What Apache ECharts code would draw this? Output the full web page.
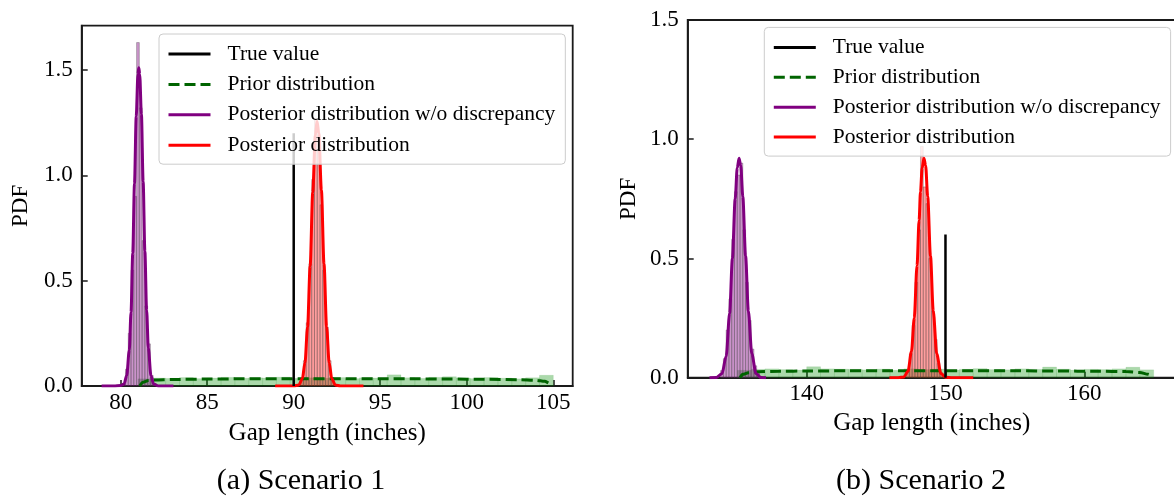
<!DOCTYPE html>
<html>
<head>
<meta charset="utf-8">
<script src="https://cdn.jsdelivr.net/npm/echarts@6/dist/echarts.min.js"></script>
<style>
  html, body { margin: 0; padding: 0; background: #ffffff; }
  #chart { width: 1174px; height: 499px; }
</style>
</head>
<body>
<div id="chart"></div>
<script>
// ---------- Scenario 1 ----------
const s1TrueX = 90;
const s1TrueTop = 1.2;

const s1PriorBinEdges = [81.0, 81.8, 82.6, 83.4, 84.2, 85.0, 85.8, 86.6, 87.4, 88.2, 89.0, 89.8, 90.6, 91.4, 92.2, 93.0,
  93.8, 94.6, 95.4, 96.2, 97.0, 97.8, 98.6, 99.4, 100.2, 101.0, 101.8, 102.6, 103.4, 104.2, 105.0];
const s1PriorBinHeights = [0.034, 0.038, 0.036, 0.040, 0.035, 0.038, 0.041, 0.037, 0.039, 0.038, 0.042, 0.036, 0.039, 0.037, 0.040,
  0.035, 0.039, 0.038, 0.053, 0.039, 0.036, 0.041, 0.044, 0.038, 0.035, 0.040, 0.037, 0.034, 0.039, 0.051];
const s1PriorKdeX = [81.1, 81.3, 81.6, 82, 83, 85, 87, 89, 91, 93, 95, 97, 99, 101, 103, 104, 104.5, 104.8, 104.9];
const s1PriorKdeY = [0.0, 0.018, 0.026, 0.029, 0.031, 0.033, 0.034, 0.035, 0.035, 0.035, 0.034, 0.034, 0.033, 0.032, 0.030, 0.027, 0.022, 0.012, 0.0];

const s1NoDiscBinEdges = [80.12, 80.28, 80.44, 80.60, 80.76, 80.92, 81.08, 81.24, 81.40, 81.56, 81.72, 81.88, 82.04];
const s1NoDiscBinHeights = [0.01, 0.08, 0.25, 0.55, 0.90, 1.63, 1.32, 0.69, 0.38, 0.20, 0.05, 0.01];
const s1NoDiscKdeX = [78.9, 79.6, 80.0, 80.2, 80.35, 80.5, 80.6, 80.7, 80.8, 80.9, 81.0, 81.05, 81.1, 81.2, 81.3, 81.4, 81.5, 81.6, 81.75, 81.9, 82.2, 82.6, 83.05];
const s1NoDiscKdeY = [0, 0, 0.002, 0.01, 0.05, 0.17, 0.35, 0.63, 0.96, 1.28, 1.48, 1.51, 1.48, 1.29, 0.97, 0.64, 0.36, 0.18, 0.05, 0.01, 0, 0, 0];

const s1PostBinEdges = [90.40, 90.56, 90.72, 90.88, 91.04, 91.20, 91.36, 91.52, 91.68, 91.84, 92.00, 92.16, 92.32];
const s1PostBinHeights = [0.03, 0.12, 0.30, 0.58, 0.98, 1.27, 1.18, 0.86, 0.55, 0.28, 0.12, 0.04];
const s1PostKdeX = [88.93, 89.6, 90.0, 90.3, 90.5, 90.65, 90.8, 90.95, 91.1, 91.25, 91.35, 91.45, 91.6, 91.75, 91.9, 92.05, 92.2, 92.4, 92.7, 93.2, 94.03];
const s1PostKdeY = [0, 0, 0, 0.005, 0.035, 0.11, 0.28, 0.57, 0.92, 1.19, 1.255, 1.2, 0.93, 0.58, 0.28, 0.11, 0.035, 0.005, 0, 0, 0];

const s1XTicks = [80, 85, 90, 95, 100, 105];
const s1YTicks = [0, 0.5, 1.0, 1.5];

// ---------- Scenario 2 ----------
const s2TrueX = 150;
const s2TrueTop = 0.6;

const s2PriorBinEdges = [135, 136, 137, 138, 139, 140, 141, 142, 143, 144, 145, 146, 147, 148, 149, 150,
  151, 152, 153, 154, 155, 156, 157, 158, 159, 160, 161, 162, 163, 164, 165];
const s2PriorBinHeights = [0.031, 0.035, 0.037, 0.034, 0.032, 0.046, 0.037, 0.036, 0.035, 0.033, 0.036, 0.031, 0.037, 0.034, 0.036,
  0.032, 0.035, 0.038, 0.034, 0.033, 0.037, 0.035, 0.045, 0.036, 0.032, 0.035, 0.034, 0.037, 0.044, 0.033];
const s2PriorKdeX = [135.2, 135.4, 135.8, 136.5, 138, 140, 143, 146, 149, 152, 155, 158, 161, 163, 164, 164.6, 164.9];
const s2PriorKdeY = [0, 0.014, 0.021, 0.025, 0.027, 0.028, 0.029, 0.029, 0.029, 0.029, 0.029, 0.028, 0.027, 0.026, 0.022, 0.014, 0.004];

const s2NoDiscBinEdges = [133.8, 134.0, 134.2, 134.4, 134.6, 134.8, 135.0, 135.2, 135.4, 135.6, 135.8, 136.0, 136.2, 136.4, 136.6];
const s2NoDiscBinHeights = [0.03, 0.08, 0.20, 0.33, 0.58, 0.78, 0.85, 0.90, 0.62, 0.40, 0.24, 0.12, 0.05, 0.02];
const s2NoDiscKdeX = [133.0, 133.5, 133.9, 134.2, 134.45, 134.65, 134.85, 135.0, 135.13, 135.25, 135.4, 135.6, 135.8, 136.05, 136.35, 136.7, 137.07];
const s2NoDiscKdeY = [0, 0.001, 0.017, 0.09, 0.27, 0.50, 0.75, 0.88, 0.92, 0.89, 0.76, 0.51, 0.28, 0.10, 0.018, 0.001, 0];

const s2PostBinEdges = [147.2, 147.4, 147.6, 147.8, 148.0, 148.2, 148.4, 148.6, 148.8, 149.0, 149.2, 149.4, 149.6, 149.8];
const s2PostBinHeights = [0.03, 0.10, 0.22, 0.40, 0.62, 0.97, 0.80, 0.73, 0.50, 0.28, 0.16, 0.06, 0.02];
const s2PostKdeX = [145.96, 146.6, 147.0, 147.3, 147.55, 147.75, 147.95, 148.1, 148.2, 148.32, 148.45, 148.57, 148.72, 148.92, 149.12, 149.37, 149.67, 150.0, 150.5, 151.2, 152.0];
const s2PostKdeY = [0, 0, 0.003, 0.027, 0.11, 0.25, 0.47, 0.66, 0.78, 0.88, 0.92, 0.89, 0.76, 0.51, 0.28, 0.10, 0.018, 0.002, 0, 0, 0];

const s2XTicks = [140, 150, 160];
const s2YTicks = [0, 0.5, 1.0, 1.5];

const legendNames = ['True value', 'Prior distribution', 'Posterior distribution w/o discrepancy', 'Posterior distribution'];
const captions = ['(a) Scenario 1', '(b) Scenario 2'];

// ---------- styling ----------
const FONT = '"Liberation Serif", "Times New Roman", serif';
const INK = '#000000';
const AXIS = '#1a1a1a';
const C_TRUE = '#000000';
const C_PRIOR = '#006400';
const C_NODISC = '#800080';
const C_POST = '#ff0000';

function binRenderer(fill, stroke) {
  return function (params, api) {
    const top = api.coord([api.value(0), api.value(2)]);
    const base = api.coord([api.value(1), 0]);
    return {
      type: 'rect',
      shape: { x: top[0], y: top[1], width: base[0] - top[0], height: base[1] - top[1] },
      style: { fill: fill, stroke: stroke, lineWidth: 0.6 }
    };
  };
}

function histSeries(id, edges, heights, gi, fill, stroke, z) {
  return {
    type: 'custom', id: id, xAxisIndex: gi, yAxisIndex: gi,
    data: heights.map((h, i) => [edges[i], edges[i + 1], h]),
    encode: { x: [0, 1], y: 2 },
    renderItem: binRenderer(fill, stroke),
    silent: true, z: z
  };
}

function curveSeries(name, xs, ys, gi, color, dashed, z) {
  return {
    type: 'line', name: name, xAxisIndex: gi, yAxisIndex: gi,
    data: xs.map((x, i) => [x, ys[i]]),
    symbol: 'none', smooth: 0.3, smoothMonotone: 'x',
    lineStyle: { color: color, width: 3, type: dashed ? [11, 5] : 'solid' },
    itemStyle: { color: color },
    silent: true, z: z
  };
}

function trueSeries(x, top, gi) {
  return {
    type: 'line', name: 'True value', xAxisIndex: gi, yAxisIndex: gi,
    data: [[x, 0], [x, top]], symbol: 'none',
    lineStyle: { color: C_TRUE, width: 2.5 }, itemStyle: { color: C_TRUE },
    silent: true, z: 6
  };
}

function xAxisCfg(gi, min, max, ticks, nameGap) {
  return {
    type: 'value', gridIndex: gi, min: min, max: max,
    name: 'Gap length (inches)', nameLocation: 'middle', nameGap: nameGap,
    nameTextStyle: { fontFamily: FONT, fontSize: 25, color: INK },
    axisLine: { show: true, onZero: false, lineStyle: { color: AXIS, width: 1.8 } },
    axisTick: { show: true, inside: true, length: 6, customValues: ticks, lineStyle: { color: AXIS, width: 1.5 } },
    axisLabel: { show: true, customValues: ticks, margin: 5, fontFamily: FONT, fontSize: 23, color: INK },
    splitLine: { show: false }
  };
}

function yAxisCfg(gi, max, ticks, nameGap) {
  return {
    type: 'value', gridIndex: gi, min: 0, max: max,
    name: 'PDF', nameLocation: 'middle', nameGap: nameGap,
    nameTextStyle: { fontFamily: FONT, fontSize: 23, color: INK },
    axisLine: { show: true, onZero: false, lineStyle: { color: AXIS, width: 1.8 } },
    axisTick: { show: true, inside: true, length: 6, customValues: ticks, lineStyle: { color: AXIS, width: 1.5 } },
    axisLabel: {
      show: true, customValues: ticks, margin: 9, fontFamily: FONT, fontSize: 23, color: INK,
      formatter: v => Number(v).toFixed(1)
    },
    splitLine: { show: false }
  };
}

function legendCfg(left, top, gap) {
  return {
    data: legendNames, orient: 'vertical', left: left, top: top,
    itemWidth: 42, itemHeight: 14, itemGap: gap,
    padding: [9, 10, 8, 8],
    backgroundColor: 'rgba(255,255,255,0.8)', borderColor: '#cccccc', borderWidth: 1, borderRadius: 4,
    itemStyle: { opacity: 0 },
    lineStyle: { width: 3 },
    textStyle: { fontFamily: FONT, fontSize: 21.5, color: INK, lineHeight: 21, padding: [0, 0, 0, 12] },
    selectedMode: false, z: 10
  };
}

const chart = echarts.init(document.getElementById('chart'), null, { renderer: 'canvas' });

chart.setOption({
  animation: false,
  backgroundColor: '#ffffff',
  grid: [
    { left: 81.7, top: 25.7, width: 491, height: 360.3, show: true, borderColor: AXIS, borderWidth: 1.8, containLabel: false, outerBoundsMode: 'none' },
    { left: 687.7, top: 20, width: 488.2, height: 357.7, show: true, borderColor: AXIS, borderWidth: 1.8, containLabel: false, outerBoundsMode: 'none' }
  ],
  xAxis: [
    xAxisCfg(0, 77.75, 106.12, s1XTicks, 34.5),
    xAxisCfg(1, 131.43, 166.6, s2XTicks, 33.5)
  ],
  yAxis: [
    yAxisCfg(0, 1.71, s1YTicks, 49),
    yAxisCfg(1, 1.5, s2YTicks, 47)
  ],
  legend: [
    legendCfg(159, 34, 8.4),
    legendCfg(764.3, 27.4, 7.9)
  ],
  graphic: [
    { type: 'text', x: 301, y: 481.5, style: { text: captions[0], fontFamily: FONT, fontSize: 30, fill: INK, align: 'center', verticalAlign: 'middle' } },
    { type: 'text', x: 921, y: 481.5, style: { text: captions[1], fontFamily: FONT, fontSize: 30, fill: INK, align: 'center', verticalAlign: 'middle' } }
  ],
  series: [
    // Scenario 1
    histSeries('s1-prior-bins', s1PriorBinEdges, s1PriorBinHeights, 0, 'rgba(0,140,0,0.33)', 'rgba(0,128,0,0.15)', 1),
    histSeries('s1-nodisc-bins', s1NoDiscBinEdges, s1NoDiscBinHeights, 0, 'rgba(128,0,128,0.42)', 'rgba(70,70,70,0.55)', 2),
    histSeries('s1-post-bins', s1PostBinEdges, s1PostBinHeights, 0, 'rgba(255,0,0,0.38)', 'rgba(70,70,70,0.55)', 2),
    curveSeries('Prior distribution', s1PriorKdeX, s1PriorKdeY, 0, C_PRIOR, true, 4),
    curveSeries('Posterior distribution w/o discrepancy', s1NoDiscKdeX, s1NoDiscKdeY, 0, C_NODISC, false, 5),
    curveSeries('Posterior distribution', s1PostKdeX, s1PostKdeY, 0, C_POST, false, 5),
    trueSeries(s1TrueX, s1TrueTop, 0),
    // Scenario 2
    histSeries('s2-prior-bins', s2PriorBinEdges, s2PriorBinHeights, 1, 'rgba(0,140,0,0.33)', 'rgba(0,128,0,0.15)', 1),
    histSeries('s2-nodisc-bins', s2NoDiscBinEdges, s2NoDiscBinHeights, 1, 'rgba(128,0,128,0.42)', 'rgba(70,70,70,0.55)', 2),
    histSeries('s2-post-bins', s2PostBinEdges, s2PostBinHeights, 1, 'rgba(255,0,0,0.38)', 'rgba(70,70,70,0.55)', 2),
    curveSeries('Prior distribution', s2PriorKdeX, s2PriorKdeY, 1, C_PRIOR, true, 4),
    curveSeries('Posterior distribution w/o discrepancy', s2NoDiscKdeX, s2NoDiscKdeY, 1, C_NODISC, false, 5),
    curveSeries('Posterior distribution', s2PostKdeX, s2PostKdeY, 1, C_POST, false, 5),
    trueSeries(s2TrueX, s2TrueTop, 1)
  ]
});
</script>
</body>
</html>
